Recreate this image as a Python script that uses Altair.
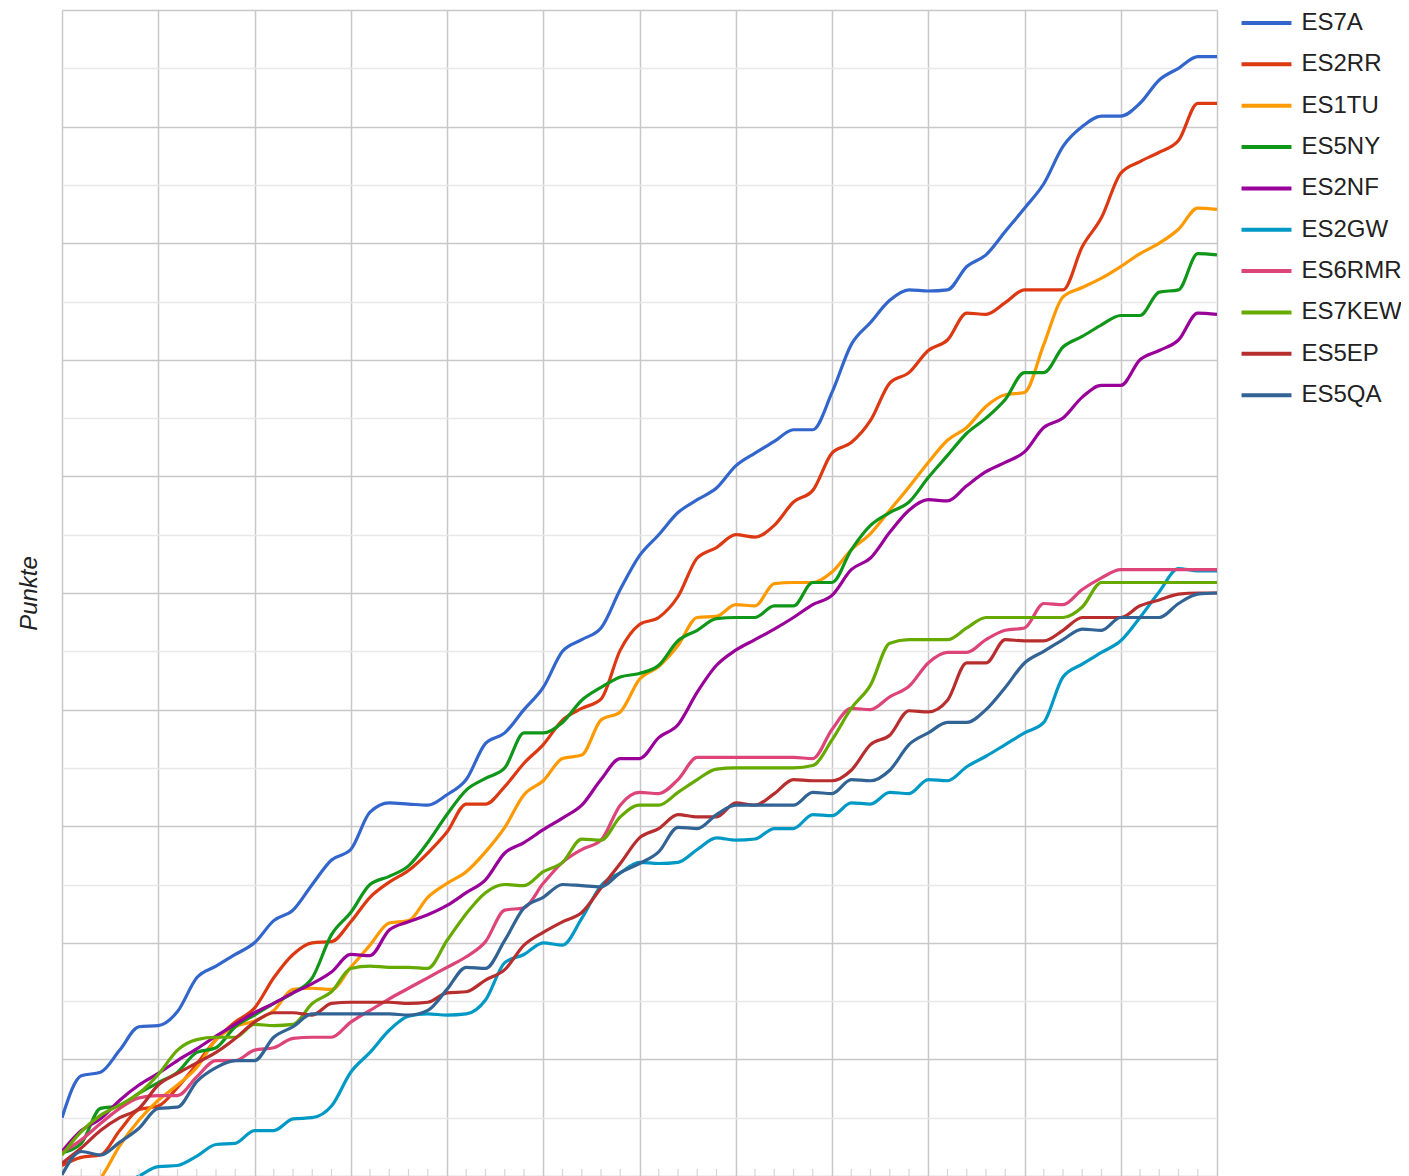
import altair as alt
import pandas as pd

FONT = "Liberation Sans"

stations = ["ES7A", "ES2RR", "ES1TU", "ES5NY", "ES2NF", "ES2GW", "ES6RMR", "ES7KEW", "ES5EP", "ES5QA"]
colors = ["#3366cc", "#dc3912", "#ff9900", "#109618", "#990099", "#0099c6", "#dd4477", "#66aa00", "#b82e2e", "#316395"]
rounds = list(range(61))

es7a = [5.0, 8.6, 8.9, 10.8, 12.8, 12.9, 14.1, 17.0, 18.0, 19.0, 20.0, 21.9, 22.8, 25.0, 27.1, 28.0, 31.2, 32.0, 31.9, 31.8,
        32.7, 34.0, 37.1, 38.0, 40.0, 41.9, 45.0, 46.0, 47.0, 50.3, 53.2, 55.0, 56.9, 58.0, 59.0, 60.9, 62.0, 63.0, 64.0, 64.0,
        67.2, 71.3, 73.2, 75.1, 76.0, 75.9, 76.0, 78.0, 79.0, 81.0, 83.0, 85.1, 88.3, 90.0, 90.9, 90.9, 92.0, 94.0, 95.0, 96.0, 96.0]
es2rr = [0.9, 1.6, 1.8, 3.9, 5.7, 6.0, 7.6, 9.6, 11.7, 13.2, 14.4, 17.0, 19.0, 20.0, 20.1, 21.8, 23.9, 25.2, 26.2, 27.7,
         29.5, 31.9, 31.9, 33.4, 35.4, 37.0, 39.1, 40.1, 40.9, 45.1, 47.3, 47.9, 49.7, 53.0, 53.9, 55.0, 54.8, 55.8, 57.8, 58.8,
         62.0, 62.9, 64.8, 68.0, 68.9, 70.8, 71.7, 74.0, 73.9, 74.9, 76.0, 76.0, 76.0, 79.7, 82.2, 86.0, 87.0, 87.8, 88.8, 92.0, 92.0]
es1tu = [-3.0, -1.5, -0.2, 2.6, 4.8, 6.5, 7.8, 9.3, 11.7, 12.8, 13.3, 14.2, 16.0, 16.1, 16.0, 17.9, 19.8, 21.7, 21.9, 23.9,
         25.1, 26.1, 27.8, 29.9, 32.7, 33.9, 35.8, 36.1, 39.1, 39.8, 42.6, 43.7, 45.5, 47.9, 48.0, 49.0, 48.9, 50.8, 50.9, 50.9,
         51.8, 53.7, 55.1, 57.1, 59.1, 61.2, 63.1, 64.2, 66.0, 67.0, 67.2, 71.3, 75.4, 76.2, 77.0, 78.0, 79.1, 80.0, 81.2, 83.0, 82.9]
es5ny = [2.0, 2.8, 5.8, 6.0, 7.1, 8.0, 8.9, 10.6, 11.0, 12.8, 13.8, 14.8, 15.7, 17.0, 20.7, 22.6, 25.0, 25.7, 26.6, 28.6,
         31.0, 33.1, 34.1, 35.0, 38.0, 38.0, 38.9, 40.8, 41.9, 42.8, 43.1, 43.8, 45.9, 46.8, 47.8, 47.9, 47.9, 48.9, 48.9, 50.9,
         50.9, 53.7, 55.8, 56.9, 57.8, 59.9, 61.8, 63.7, 65.0, 66.6, 68.9, 68.9, 71.1, 72.0, 73.0, 73.8, 73.8, 75.8, 76.0, 79.1, 79.0]
es2nf = [2.1, 3.9, 4.9, 6.5, 7.8, 8.8, 9.9, 10.9, 12.0, 13.0, 14.0, 14.8, 15.7, 16.5, 17.5, 19.0, 18.9, 21.1, 21.8, 22.4,
         23.2, 24.3, 25.4, 27.7, 28.6, 29.7, 30.7, 31.8, 34.0, 35.8, 35.8, 37.6, 38.7, 41.5, 43.8, 45.1, 46.0, 46.9, 47.9, 49.0,
         49.8, 52.0, 53.0, 55.2, 57.1, 58.0, 57.9, 59.2, 60.4, 61.2, 62.1, 64.2, 65.0, 66.8, 67.8, 67.8, 70.0, 70.8, 71.7, 74.0, 73.9]
es2gw = [-3.0, -2.2, -1.5, -0.8, 0.0, 0.8, 0.9, 1.7, 2.7, 2.8, 3.9, 3.9, 4.9, 5.0, 6.0, 8.9, 10.6, 12.5, 13.7, 13.9,
         13.8, 13.9, 15.1, 18.3, 19.0, 20.0, 19.8, 22.1, 24.9, 26.0, 26.9, 26.8, 26.9, 28.0, 29.0, 28.8, 28.9, 29.8, 29.8, 31.0,
         30.9, 32.0, 31.9, 32.9, 32.8, 34.0, 33.9, 35.1, 36.0, 37.0, 38.0, 38.9, 42.8, 43.9, 44.9, 45.9, 47.9, 50.1, 52.1, 51.9, 51.9]
es6rmr = [2.0, 3.1, 4.5, 5.8, 6.7, 6.9, 6.9, 8.5, 9.9, 9.9, 10.8, 11.0, 11.8, 11.9, 11.9, 13.2, 14.2, 15.2, 16.1, 17.0,
          17.9, 18.8, 20.1, 22.8, 23.0, 25.1, 26.9, 28.0, 28.8, 31.8, 32.9, 32.8, 34.0, 35.9, 35.9, 35.9, 35.9, 35.9, 35.9, 35.8,
          38.3, 40.1, 40.0, 41.1, 42.0, 44.0, 44.9, 44.9, 46.0, 46.8, 47.0, 49.1, 49.0, 50.3, 51.3, 52.0, 52.0, 52.0, 52.0, 52.0, 52.0]
es7kew = [1.8, 3.8, 5.2, 6.1, 7.1, 8.7, 10.8, 11.7, 11.9, 11.9, 13.0, 12.9, 13.0, 14.8, 15.8, 17.8, 18.0, 17.9, 17.9, 17.8,
          20.2, 22.5, 24.3, 25.0, 24.9, 26.1, 26.9, 28.9, 28.8, 30.8, 31.8, 31.8, 32.9, 34.0, 34.9, 35.0, 35.0, 35.0, 35.0, 35.2,
          37.4, 40.1, 42.1, 45.7, 46.0, 46.0, 46.0, 47.0, 47.9, 47.9, 47.9, 47.9, 47.9, 48.8, 50.9, 50.9, 50.9, 50.9, 50.9, 50.9, 50.9]
es5ep = [1.1, 2.4, 3.9, 5.0, 5.8, 7.8, 8.8, 9.7, 10.6, 11.8, 13.2, 14.0, 14.0, 13.8, 14.8, 14.9, 14.9, 14.9, 14.8, 14.9,
         15.7, 15.8, 16.8, 17.7, 19.8, 20.9, 21.8, 22.6, 24.7, 26.8, 29.0, 29.8, 31.0, 30.8, 30.8, 32.0, 31.8, 32.8, 34.0, 33.9,
         33.9, 34.8, 37.0, 37.8, 39.9, 39.8, 40.8, 44.0, 44.0, 46.0, 45.9, 45.9, 46.8, 47.9, 47.9, 47.9, 48.9, 49.4, 49.9, 50.0, 50.0]
es5qa = [0.1, 2.1, 1.8, 2.9, 4.1, 5.8, 5.9, 8.1, 9.3, 9.9, 9.9, 11.9, 12.8, 13.9, 13.9, 13.9, 13.9, 13.9, 13.8, 14.2,
         16.0, 17.9, 17.8, 20.2, 23.0, 23.9, 25.0, 24.9, 24.8, 26.0, 26.8, 27.8, 29.9, 29.8, 31.0, 31.8, 31.8, 31.8, 31.8, 32.9,
         32.8, 34.0, 33.9, 34.8, 37.0, 38.0, 38.9, 38.9, 40.0, 41.9, 44.0, 45.0, 46.0, 46.9, 46.8, 47.9, 47.9, 47.9, 49.1, 49.9, 50.0]

values = [es7a, es2rr, es1tu, es5ny, es2nf, es2gw, es6rmr, es7kew, es5ep, es5qa]

x_major = list(range(0, 61, 5))
x_minor = [i for i in range(1, 60) if i % 5]
y_grid = list(range(0, 101, 5))

rows = []
for k, (name, vals) in enumerate(zip(stations, values)):
    for r, v in zip(rounds, vals):
        rows.append({"Runde": r, "Station": name, "Punkte": v, "k": k})
df = pd.DataFrame(rows)

W, H = 1155, 1166

x_enc = alt.X(
    "Runde:Q",
    scale=alt.Scale(domain=[0, 60], nice=False, zero=False),
    axis=alt.Axis(values=x_major, grid=True, gridColor="#c8c8c8", gridWidth=1.5,
                  labels=False, ticks=False, domain=False, title=None),
)

lines = alt.Chart(df).mark_line(interpolate="monotone", strokeWidth=3.2, clip=True).encode(
    x=x_enc,
    y=alt.Y(
        "Punkte:Q",
        scale=alt.Scale(domain=[0, 100], nice=False, zero=False),
        axis=alt.Axis(
            values=y_grid, grid=True,
            gridColor={"condition": {"test": "datum.value % 10 === 0", "value": "#c8c8c8"}, "value": "#e8e8e8"},
            gridWidth=1.5, labels=False, ticks=False, domain=False,
            title="Punkte", titleFont=FONT, titleFontSize=24, titleFontStyle="italic",
            titleFontWeight="normal", titleColor="#222222", titlePadding=21,
        ),
    ),
    color=alt.Color(
        "Station:N",
        sort=stations,
        scale=alt.Scale(domain=stations, range=colors),
        legend=alt.Legend(
            title=None, orient="none", legendX=1184, legendY=-7.5, padding=0,
            symbolType="M-1.35,0H1.35", symbolSize=1369, symbolStrokeWidth=4,
            labelFont=FONT, labelFontSize=24, labelColor="#222222", labelOffset=14.5,
            rowPadding=8.35, labelLimit=300,
        ),
    ),
    order=alt.Order("k:Q"),
)

ticks = alt.Chart(pd.DataFrame({"Runde": x_minor})).mark_rule(color="#d6d6d6", strokeWidth=1.2).encode(
    x=x_enc,
    y=alt.value(H - 7),
    y2=alt.value(H),
)

chart = alt.layer(lines, ticks).properties(
    width=W, height=H,
    autosize=alt.AutoSizeParams(type="none"),
    padding={"left": 54, "top": 2, "right": 184, "bottom": 10},
).configure_view(strokeWidth=0)

chart.save("out.html", embed_options={"renderer": "svg", "actions": False})
